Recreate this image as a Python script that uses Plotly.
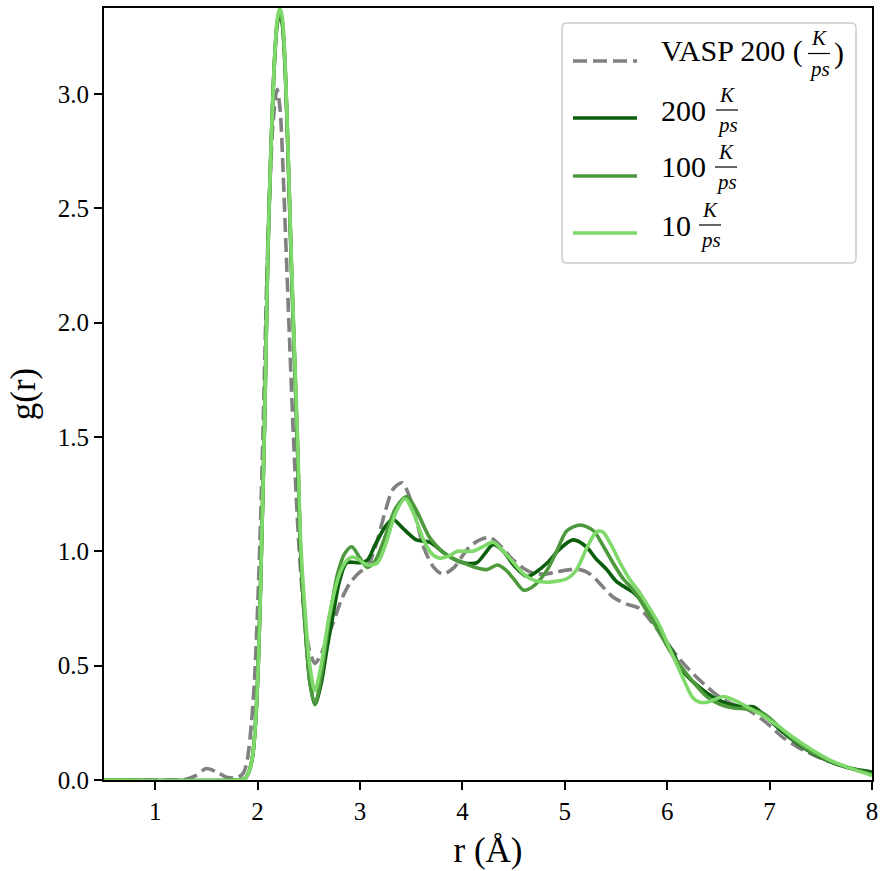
import plotly.graph_objects as go

# ---------------- data ----------------
r_vasp = [0.5, 1.2, 1.3, 1.4, 1.5, 1.6, 1.7, 1.8, 1.86, 1.9, 1.94, 1.97, 2.0, 2.03, 2.06, 2.09, 2.12, 2.15,
          2.19, 2.22, 2.25, 2.28, 2.31, 2.35, 2.4, 2.45, 2.5, 2.56, 2.62, 2.68, 2.74, 2.82, 2.9, 3.0, 3.07,
          3.15, 3.25, 3.32, 3.41, 3.5, 3.56, 3.62, 3.72, 3.81, 3.92, 4.0, 4.07, 4.17, 4.27, 4.38, 4.5, 4.66,
          4.8, 4.92, 5.05, 5.15, 5.25, 5.31, 5.47, 5.6, 5.73, 5.85, 6.0, 6.1, 6.22, 6.37, 6.52, 6.65, 6.78,
          6.97, 7.12, 7.27, 7.45, 7.62, 7.8, 8.0]
g_vasp = [0.0, 0.0, 0.003, 0.02, 0.05, 0.035, 0.012, 0.01, 0.03, 0.09, 0.25, 0.44, 0.75, 1.15, 1.65, 2.2, 2.6, 2.87,
          3.02, 2.93, 2.65, 2.3, 1.95, 1.5, 1.05, 0.75, 0.58, 0.51, 0.55, 0.62, 0.69, 0.79, 0.86, 0.91, 0.93,
          1.02, 1.18, 1.27, 1.30, 1.22, 1.12, 1.02, 0.93, 0.90, 0.93, 0.98, 1.02, 1.05, 1.06, 1.02, 0.96, 0.91,
          0.90, 0.91, 0.92, 0.92, 0.90, 0.875, 0.80, 0.77, 0.75, 0.69, 0.60, 0.54, 0.48, 0.415, 0.36, 0.33, 0.31,
          0.25, 0.19, 0.145, 0.105, 0.075, 0.05, 0.033]

r_200 = [0.5, 1.8, 1.87, 1.91, 1.95, 1.98, 2.01, 2.04, 2.07, 2.10, 2.13, 2.16, 2.19, 2.215, 2.24, 2.27, 2.30, 2.33,
         2.36, 2.39, 2.42, 2.46, 2.51, 2.56, 2.62, 2.68, 2.74, 2.8, 2.87, 3.0, 3.07, 3.15, 3.25, 3.32, 3.42, 3.55,
         3.68, 3.8, 3.9, 4.01, 4.14, 4.22, 4.30, 4.4, 4.5, 4.63, 4.72, 4.83, 4.95, 5.08, 5.21, 5.3, 5.41, 5.5,
         5.6, 5.67, 5.77, 5.9, 6.06, 6.13, 6.25, 6.39, 6.5, 6.61, 6.75, 6.84, 6.97, 7.1, 7.27, 7.45, 7.62, 7.8, 8.0]
g_200 = [0.0, 0.0, 0.005, 0.03, 0.1, 0.25, 0.55, 1.05, 1.6, 2.3, 2.75, 3.1, 3.3, 3.35, 3.31, 3.1, 2.7, 2.25,
         1.85, 1.45, 1.0, 0.7, 0.43, 0.33, 0.42, 0.58, 0.73, 0.87, 0.95, 0.95, 0.96, 1.03, 1.11, 1.14, 1.10, 1.05,
         1.04, 1.0, 0.97, 0.95, 0.95, 0.99, 1.03, 1.0, 0.94, 0.89, 0.91, 0.95, 1.01, 1.05, 1.02, 0.97, 0.92, 0.87,
         0.84, 0.82, 0.77, 0.67, 0.555, 0.49, 0.43, 0.38, 0.35, 0.33, 0.32, 0.32, 0.275, 0.22, 0.16, 0.11, 0.075, 0.05, 0.035]

r_100 = [0.5, 1.8, 1.87, 1.91, 1.95, 1.98, 2.01, 2.04, 2.07, 2.10, 2.13, 2.16, 2.19, 2.215, 2.24, 2.27, 2.30, 2.33,
         2.36, 2.39, 2.42, 2.46, 2.51, 2.56, 2.62, 2.7, 2.78, 2.85, 2.92, 3.0, 3.07, 3.15, 3.25, 3.35, 3.46, 3.55,
         3.68, 3.8, 3.9, 4.01, 4.12, 4.24, 4.34, 4.42, 4.5, 4.6, 4.7, 4.83, 4.92, 5.02, 5.15, 5.28, 5.38, 5.47,
         5.57, 5.67, 5.8, 5.93, 6.06, 6.18, 6.29, 6.4, 6.52, 6.65, 6.78, 6.94, 7.1, 7.25, 7.42, 7.6, 7.8, 8.0]
g_100 = [0.0, 0.0, 0.005, 0.03, 0.1, 0.25, 0.55, 1.05, 1.6, 2.3, 2.75, 3.1, 3.31, 3.36, 3.32, 3.1, 2.7, 2.25,
         1.85, 1.45, 1.0, 0.7, 0.43, 0.33, 0.45, 0.7, 0.9, 0.99, 1.02, 0.97, 0.93, 0.96, 1.07, 1.19, 1.24, 1.18,
         1.06, 1.0, 0.97, 0.95, 0.93, 0.92, 0.94, 0.92, 0.88, 0.83, 0.85, 0.92, 1.0, 1.09, 1.115, 1.09, 1.02, 0.95,
         0.88, 0.83, 0.74, 0.64, 0.54, 0.47, 0.41, 0.36, 0.33, 0.315, 0.31, 0.29, 0.23, 0.17, 0.12, 0.08, 0.05, 0.025]

r_10 = [0.5, 1.8, 1.87, 1.91, 1.95, 1.98, 2.01, 2.04, 2.07, 2.10, 2.13, 2.16, 2.19, 2.215, 2.24, 2.27, 2.30, 2.33,
        2.36, 2.39, 2.42, 2.46, 2.51, 2.56, 2.62, 2.7, 2.8, 2.87, 2.93, 3.0, 3.07, 3.17, 3.25, 3.35, 3.44, 3.52,
        3.62, 3.7, 3.78, 3.87, 3.95, 4.1, 4.2, 4.3, 4.4, 4.5, 4.6, 4.69, 4.83, 4.93, 5.02, 5.1, 5.15, 5.22, 5.31,
        5.37, 5.45, 5.54, 5.63, 5.73, 5.8, 5.92, 6.03, 6.14, 6.25, 6.32, 6.39, 6.48, 6.55, 6.65, 6.78, 6.94, 7.1,
        7.25, 7.42, 7.6, 7.8, 8.0]
g_10 = [0.0, 0.0, 0.005, 0.03, 0.1, 0.25, 0.55, 1.05, 1.6, 2.3, 2.75, 3.1, 3.32, 3.375, 3.34, 3.12, 2.72, 2.28,
        1.88, 1.5, 1.05, 0.76, 0.5, 0.39, 0.5, 0.72, 0.9, 0.96, 0.975, 0.96, 0.94, 0.95, 1.03, 1.17, 1.23, 1.17,
        1.05, 0.99, 0.97, 0.98, 1.0, 1.0, 1.02, 1.04, 1.0, 0.95, 0.9, 0.875, 0.865, 0.87, 0.88, 0.91, 0.95, 1.02, 1.085,
        1.085, 1.03, 0.95, 0.88, 0.82, 0.77, 0.68, 0.57, 0.46, 0.36, 0.34, 0.34, 0.355, 0.365, 0.35, 0.32, 0.28, 0.23,
        0.18, 0.13, 0.085, 0.05, 0.02]

series_names = ["VASP 200 (K/ps)", "200 K/ps", "100 K/ps", "10 K/ps"]
colors = ["#808080", "#0b5e0b", "#4c9a3c", "#7ed96a"]

x_ticks = [1, 2, 3, 4, 5, 6, 7, 8]
y_ticks = [0.0, 0.5, 1.0, 1.5, 2.0, 2.5, 3.0]

# ---------------- figure ----------------
W, H = 882, 871
L, R, T, B = 104, 10, 8, 91
PW, PH = W - L - R, H - T - B
FONT = "Liberation Serif"
LW = 3.6

fig = go.Figure()
data = [(r_vasp, g_vasp), (r_200, g_200), (r_100, g_100), (r_10, g_10)]
for i, (xs, ys) in enumerate(data):
    fig.add_trace(go.Scatter(
        x=xs, y=ys, mode="lines", name=series_names[i], showlegend=False,
        line=dict(color=colors[i], width=LW, shape="spline", smoothing=0.8,
                  dash="14px,6px" if i == 0 else "solid"),
    ))

axis_common = dict(
    showgrid=False, zeroline=False, showline=True, mirror=True, automargin=False,
    linecolor="black", linewidth=1.8, ticks="outside", ticklen=8, tickwidth=1.8,
    tickcolor="black", tickfont=dict(family=FONT, size=25, color="black"),
)
fig.update_xaxes(range=[0.5, 8], tickvals=x_ticks, ticktext=[str(v) for v in x_ticks],
                 title=dict(text="r (Å)", font=dict(family=FONT, size=35, color="black"), standoff=14),
                 **axis_common)
fig.update_yaxes(range=[0, 3.376], tickvals=y_ticks, ticktext=[f"{v:.1f}" for v in y_ticks],
                 title=dict(text="g(r)", font=dict(family=FONT, size=35, color="black"), standoff=12),
                 **axis_common)


def px(xp):
    return (xp - L) / PW


def py(yp):
    return (H - B - yp) / PH


shapes = []
annotations = []

# legend frame (rounded)
x0, x1, y0, y1, rad = 562, 856, 23, 263, 5
path = (f"M {px(x0+rad)} {py(y0)} L {px(x1-rad)} {py(y0)} Q {px(x1)} {py(y0)} {px(x1)} {py(y0+rad)} "
        f"L {px(x1)} {py(y1-rad)} Q {px(x1)} {py(y1)} {px(x1-rad)} {py(y1)} "
        f"L {px(x0+rad)} {py(y1)} Q {px(x0)} {py(y1)} {px(x0)} {py(y1-rad)} "
        f"L {px(x0)} {py(y0+rad)} Q {px(x0)} {py(y0)} {px(x0+rad)} {py(y0)} Z")
shapes.append(dict(type="path", xref="paper", yref="paper", path=path,
                   fillcolor="rgba(255,255,255,0.8)", line=dict(color="#cccccc", width=1.5), layer="above"))

rows = [61, 118, 176, 233]
main_txt = ["VASP 200 (", "200", "100", "10"]
frac_cx = [819, 727, 726, 710]
bar_y = [53.5, 110, 167, 225]
text_cy = [51, 110, 167, 225]
for i in range(4):
    shapes.append(dict(type="line", xref="paper", yref="paper",
                       x0=px(573), x1=px(637), y0=py(rows[i]), y1=py(rows[i]),
                       line=dict(color=colors[i], width=LW, dash="14px,6px" if i == 0 else "solid"),
                       layer="above"))
    annotations.append(dict(xref="paper", yref="paper", x=px(659), y=py(text_cy[i]),
                            xanchor="left", yanchor="middle", showarrow=False, text=main_txt[i],
                            font=dict(family=FONT, size=30, color="black")))
    # fraction K / ps
    shapes.append(dict(type="line", xref="paper", yref="paper",
                       x0=px(frac_cx[i] - 11), x1=px(frac_cx[i] + 11), y0=py(bar_y[i]), y1=py(bar_y[i]),
                       line=dict(color="black", width=1.2), layer="above"))
    annotations.append(dict(xref="paper", yref="paper", x=px(frac_cx[i]), y=py(bar_y[i] - 1),
                            xanchor="center", yanchor="bottom", showarrow=False, text="<i>K</i>",
                            font=dict(family=FONT, size=21, color="black")))
    annotations.append(dict(xref="paper", yref="paper", x=px(frac_cx[i]), y=py(bar_y[i] + 1),
                            xanchor="center", yanchor="top", showarrow=False, text="<i>ps</i>",
                            font=dict(family=FONT, size=21, color="black")))
annotations.append(dict(xref="paper", yref="paper", x=px(832), y=py(53),
                        xanchor="left", yanchor="middle", showarrow=False, text=")",
                        font=dict(family=FONT, size=30, color="black")))

fig.update_layout(
    width=W, height=H, margin=dict(l=L, r=R, t=T, b=B, autoexpand=False),
    plot_bgcolor="white", paper_bgcolor="white",
    font=dict(family=FONT, color="black"),
    shapes=shapes, annotations=annotations, showlegend=False,
)

fig.write_html("out.html")
